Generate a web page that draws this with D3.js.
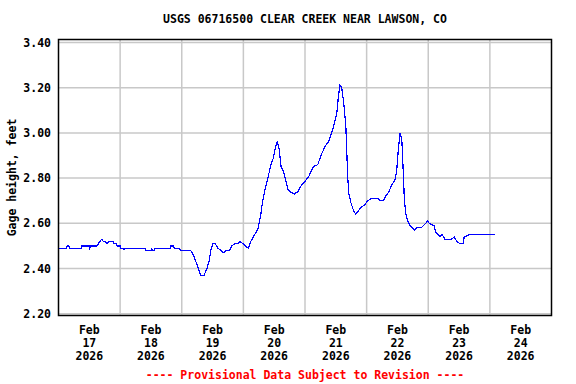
<!DOCTYPE html>
<html>
<head>
<meta charset="utf-8">
<script src="https://cdn.jsdelivr.net/npm/d3@7"></script>
<style>
  body { margin: 0; background: #fff; }
  svg text { font-family: "DejaVu Sans Mono", monospace; font-weight: bold; font-size: 11.5px; }
</style>
</head>
<body>
<svg id="chart" width="576" height="384"></svg>
<script>
"use strict";

const TITLE = "USGS 06716500 CLEAR CREEK NEAR LAWSON, CO";
const Y_LABEL = "Gage height, feet";
const FOOTER = "---- Provisional Data Subject to Revision ----";
const START = new Date(2026, 1, 17);
const END = new Date(2026, 1, 25);
const Y_TICKS = [2.20, 2.40, 2.60, 2.80, 3.00, 3.20, 3.40];

// hours after Feb 17 00:00, and gage height (ft)
const HOURS = [0, 3.2, 3.4, 4.0, 4.3, 9.0, 9.1, 12.0, 12.1, 12.5, 15.0, 15.6, 16.1, 16.9, 17.4, 18.2, 18.8, 19.6,
  21.2, 21.4, 22.5, 22.8, 24.0, 24.2, 25.4, 25.5, 25.6, 33.7, 33.9, 36.1, 36.2, 36.5, 37.4, 37.6, 43.6, 43.8,
  44.8, 45.1, 47.1, 47.4, 51.5, 52.5, 53.5, 54.5, 55.4, 56.7, 57.8, 58.8, 59.3, 60.1, 61.1, 62.0, 63.2, 64.2,
  65.3, 66.6, 67.5, 68.8, 69.7, 70.7, 71.8, 72.7, 73.9, 74.9, 75.9, 76.9, 77.8, 78.8, 79.4, 80.4, 81.5, 82.8,
  83.7, 84.6, 85.2, 85.9, 86.7, 87.6, 88.5, 89.3, 90.2, 91.9, 93.2, 94.7, 96.3, 97.6, 99.2, 101.0, 102.2,
  103.8, 105.1, 106.4, 107.4, 108.4, 109.0, 109.6, 110.3, 111.1, 111.9, 112.2, 112.6, 113.1, 113.9, 114.8,
  115.7, 116.5, 117.8, 119.1, 120.4, 122.0, 124.5, 125.2, 126.5, 127.4, 128.7, 129.8, 131.0, 131.7, 132.3,
  133.0, 133.7, 134.3, 134.7, 135.3, 136.0, 136.9, 137.8, 138.6, 139.5, 141.2, 142.1, 143.0, 143.8, 144.4,
  146.2, 146.9, 147.7, 148.6, 149.4, 150.5, 153.1, 154.1, 155.1, 156.3, 157.6, 158.0, 160.2, 169.9];
const GAGE_FT = [2.49, 2.49, 2.50, 2.50, 2.49, 2.49, 2.50, 2.50, 2.49, 2.50, 2.50, 2.51, 2.52, 2.53, 2.52, 2.52, 2.51, 2.52,
  2.52, 2.51, 2.51, 2.50, 2.50, 2.49, 2.49, 2.48, 2.49, 2.49, 2.48, 2.48, 2.49, 2.48, 2.48, 2.49, 2.49, 2.50,
  2.50, 2.49, 2.49, 2.48, 2.48, 2.46, 2.43, 2.40, 2.37, 2.37, 2.40, 2.44, 2.48, 2.51, 2.51, 2.49, 2.48, 2.47,
  2.48, 2.48, 2.50, 2.51, 2.51, 2.52, 2.51, 2.50, 2.49, 2.52, 2.54, 2.56, 2.58, 2.64, 2.69, 2.75, 2.80, 2.86,
  2.89, 2.94, 2.96, 2.93, 2.85, 2.83, 2.79, 2.75, 2.74, 2.73, 2.74, 2.77, 2.79, 2.81, 2.85, 2.86, 2.90,
  2.94, 2.96, 3.00, 3.04, 3.09, 3.16, 3.21, 3.20, 3.13, 3.03, 2.94, 2.81, 2.73, 2.69, 2.66,
  2.64, 2.65, 2.67, 2.68, 2.70, 2.71, 2.71, 2.70, 2.70, 2.72, 2.74, 2.77, 2.79, 2.83, 2.92,
  3.00, 2.97, 2.82, 2.70, 2.64, 2.61, 2.59, 2.58, 2.57, 2.58, 2.58, 2.59, 2.60, 2.61, 2.60,
  2.59, 2.56, 2.55, 2.54, 2.55, 2.53, 2.53, 2.54, 2.52, 2.51, 2.51, 2.54, 2.55, 2.55];

const frame = { left: 58.5, right: 551.5, top: 39.5, bottom: 315.5 };

const svg = d3.select("#chart");

const x = d3.scaleTime().domain([START, END]).range([frame.left, frame.right]);
const y = d3.scaleLinear().domain([2.2, 3.4]).range([313.7, 42.5]);

const data = HOURS.map((h, i) => ({ t: d3.timeMinute.offset(START, Math.round(h * 60)), v: GAGE_FT[i] }));
const days = d3.timeDay.range(START, END);

// grid
svg.append("g")
  .selectAll("line")
  .data(Y_TICKS)
  .join("line")
    .attr("x1", frame.left).attr("x2", frame.right)
    .attr("y1", d => y(d)).attr("y2", d => y(d))
    .attr("stroke", "#c8c8c8").attr("stroke-width", 1.5);
svg.append("g")
  .selectAll("line")
  .data(days.slice(1))
  .join("line")
    .attr("x1", d => x(d)).attr("x2", d => x(d))
    .attr("y1", frame.top).attr("y2", frame.bottom)
    .attr("stroke", "#c8c8c8").attr("stroke-width", 1.5);

// series
svg.append("path")
  .datum(data)
  .attr("fill", "none")
  .attr("stroke", "#0000ff")
  .attr("stroke-width", 1.2)
  .attr("shape-rendering", "crispEdges")
  .attr("d", d3.line().x(d => x(d.t)).y(d => y(d.v)));

// frame
svg.append("rect")
  .attr("x", frame.left).attr("y", frame.top)
  .attr("width", frame.right - frame.left).attr("height", frame.bottom - frame.top)
  .attr("fill", "none").attr("stroke", "#000").attr("stroke-width", 1.5);

// y tick labels
svg.append("g")
  .selectAll("text")
  .data(Y_TICKS)
  .join("text")
    .attr("x", 51).attr("y", d => y(d) + 4)
    .attr("text-anchor", "end")
    .text(d => d3.format(".2f")(d));

// x tick labels (noon of each day)
const fmtMon = d3.timeFormat("%b"), fmtDay = d3.timeFormat("%d"), fmtYear = d3.timeFormat("%Y");
const xl = svg.append("g")
  .selectAll("text")
  .data(days)
  .join("text")
    .attr("text-anchor", "middle")
    .attr("transform", d => `translate(${x(d3.timeHour.offset(d, 12))},0)`);
xl.append("tspan").attr("x", 0).attr("y", 334).text(d => fmtMon(d));
xl.append("tspan").attr("x", 0).attr("y", 347).text(d => fmtDay(d));
xl.append("tspan").attr("x", 0).attr("y", 360).text(d => fmtYear(d));

// titles
svg.append("text")
  .attr("x", (frame.left + frame.right) / 2).attr("y", 23)
  .attr("text-anchor", "middle")
  .text(TITLE);
svg.append("text")
  .attr("transform", `translate(16, ${(frame.top + frame.bottom) / 2}) rotate(-90)`)
  .attr("text-anchor", "middle")
  .text(Y_LABEL);
svg.append("text")
  .attr("x", (frame.left + frame.right) / 2).attr("y", 379)
  .attr("text-anchor", "middle")
  .attr("fill", "#ff0000")
  .text(FOOTER);
</script>
</body>
</html>
